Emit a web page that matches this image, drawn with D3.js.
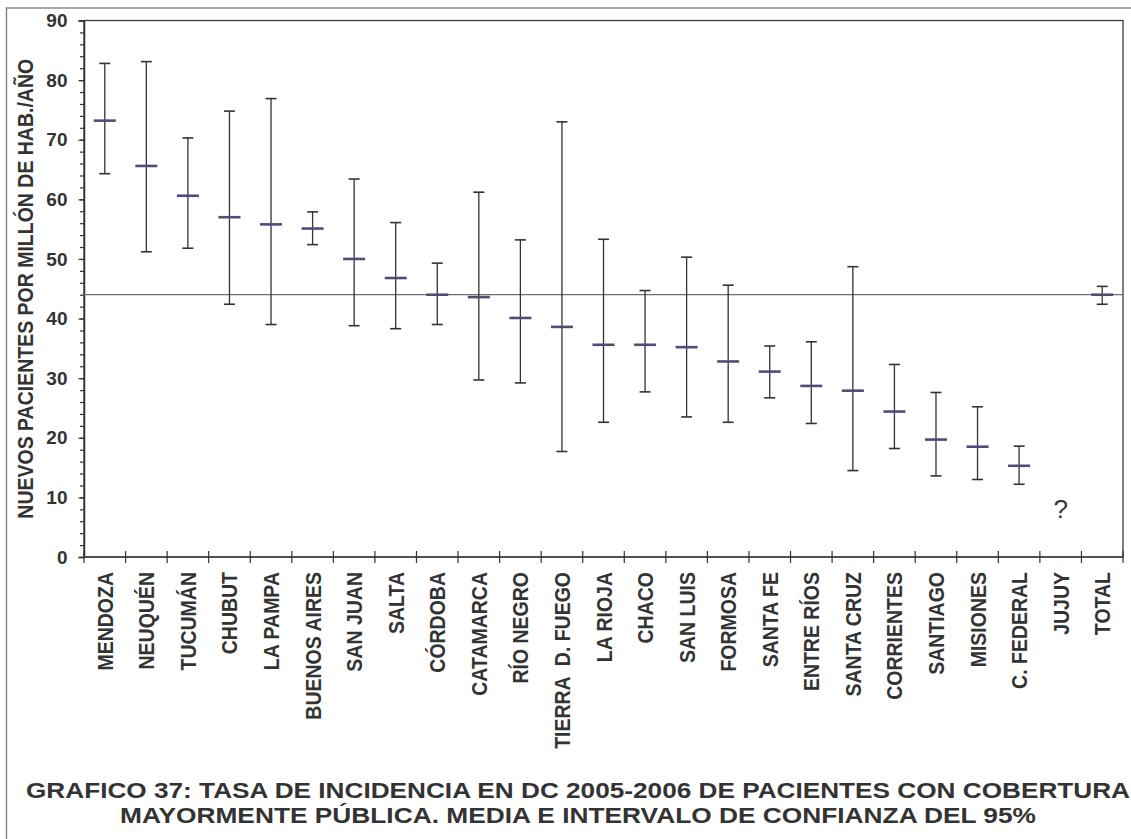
<!DOCTYPE html>
<html>
<head>
<meta charset="utf-8">
<script src="https://cdn.jsdelivr.net/npm/d3@7"></script>
<style>
  body { margin: 0; background: #fff; }
  text { font-family: "Liberation Sans", Arial, sans-serif; fill: #333; }
</style>
</head>
<body>
<div id="chart"></div>
<script>
// provinces, ordered as in the chart
const provinces = ["MENDOZA", "NEUQUÉN", "TUCUMÁN", "CHUBUT", "LA PAMPA", "BUENOS AIRES",
  "SAN JUAN", "SALTA", "CÓRDOBA", "CATAMARCA", "RÍO NEGRO", "TIERRA  D. FUEGO", "LA RIOJA",
  "CHACO", "SAN LUIS", "FORMOSA", "SANTA FE", "ENTRE RÍOS", "SANTA CRUZ", "CORRIENTES",
  "SANTIAGO", "MISIONES", "C. FEDERAL", "JUJUY", "TOTAL"];
// mean and 95% CI (null = no data)
const means = [73.2, 65.6, 60.6, 57.0, 55.8, 55.1, 50.0, 46.8, 44.0, 43.6, 40.1, 38.6, 35.6,
  35.6, 35.2, 32.8, 31.1, 28.7, 27.9, 24.4, 19.7, 18.5, 15.3, null, 44.0];
const lower = [64.3, 51.2, 51.8, 42.4, 39.0, 52.4, 38.8, 38.3, 39.0, 29.7, 29.2, 17.7, 22.6,
  27.7, 23.5, 22.6, 26.7, 22.4, 14.5, 18.2, 13.6, 13.0, 12.2, null, 42.4];
const upper = [82.8, 83.1, 70.3, 74.8, 76.9, 57.9, 63.4, 56.1, 49.3, 61.2, 53.2, 73.0, 53.3,
  44.7, 50.3, 45.6, 35.4, 36.1, 48.7, 32.3, 27.6, 25.2, 18.6, null, 45.4];
const yMajor = [0, 10, 20, 30, 40, 50, 60, 70, 80, 90];
const yMinor = d3.range(0, 91, 2);
const refValue = means[provinces.indexOf("TOTAL")];
const captionLines = [
  "GRAFICO 37: TASA DE INCIDENCIA EN DC 2005-2006 DE PACIENTES CON COBERTURA",
  "MAYORMENTE PÚBLICA. MEDIA E INTERVALO DE CONFIANZA DEL 95%"
];
const captionWidths = [1104, 916];

const W = 1131, H = 839;
const margin = {top: 20.5, right: 8, bottom: 282, left: 84};
const width = W - margin.left - margin.right;
const height = H - margin.top - margin.bottom;

const svg = d3.select("#chart").append("svg")
  .attr("width", W).attr("height", H);

// outer frame (right side falls off the page)
svg.append("rect")
  .attr("x", 6.5).attr("y", 8).attr("width", W + 20).attr("height", H + 20)
  .attr("fill", "none").attr("stroke", "#8a8a8a").attr("stroke-width", 1.5);

const g = svg.append("g").attr("transform", `translate(${margin.left},${margin.top})`);

const x = d3.scaleBand().domain(provinces).range([0, width]);
const y = d3.scaleLinear().domain([0, 90]).range([height, 0]);

// plot box
g.append("rect")
  .attr("width", width).attr("height", height)
  .attr("fill", "none").attr("stroke", "#3a3a3a").attr("stroke-width", 1.3);

// Y axis: minor ticks then major ticks with labels
g.append("g")
  .call(d3.axisLeft(y).tickValues(yMinor).tickSize(4).tickFormat(""))
  .call(a => a.select(".domain").remove())
  .selectAll("line").attr("stroke", "#333").attr("stroke-width", 1.2);
const yAx = g.append("g")
  .call(d3.axisLeft(y).tickValues(yMajor).tickSize(5.5).tickPadding(11))
  .call(a => a.select(".domain").attr("stroke", "#333").attr("stroke-width", 1.5));
yAx.selectAll("line").attr("stroke", "#333").attr("stroke-width", 1.2);
yAx.selectAll("text")
  .style("font-size", "19px").style("font-weight", "bold").attr("fill", "#333");

// X axis: bottom line plus crossing ticks at category boundaries
g.append("line")
  .attr("x1", 0).attr("x2", width).attr("y1", height).attr("y2", height)
  .attr("stroke", "#444").attr("stroke-width", 1.6);
const bounds = provinces.map(p => x(p)).concat([width]);
g.selectAll(".xtick").data(bounds).enter().append("line")
  .attr("x1", d => d).attr("x2", d => d)
  .attr("y1", height - 6).attr("y2", height + 6)
  .attr("stroke", "#333").attr("stroke-width", 1.2);

g.selectAll(".xlab").data(provinces).enter().append("text")
  .attr("transform", d => `translate(${x(d) + x.bandwidth() / 2 + 8},${height + 15}) rotate(-90) scale(1,1.15)`)
  .attr("text-anchor", "end")
  .style("font-size", "19.5px").style("font-weight", "bold")
  .style("white-space", "pre")
  .text(d => d);

// Y axis title
svg.append("text")
  .attr("transform", `translate(33,${margin.top + height / 2}) rotate(-90) scale(1,1.1)`)
  .attr("text-anchor", "middle")
  .style("font-size", "19.5px").style("font-weight", "bold")
  .text("NUEVOS PACIENTES POR MILLÓN DE HAB./AÑO");

// reference line at the total mean
g.append("line")
  .attr("x1", 0).attr("x2", width).attr("y1", y(refValue)).attr("y2", y(refValue))
  .attr("stroke", "#6e6e6e").attr("stroke-width", 1.3);

// error bars
const rows = provinces.map((p, i) => ({p, m: means[i], lo: lower[i], hi: upper[i]}))
  .filter(d => d.m !== null);
const cx = d => x(d.p) + x.bandwidth() / 2;
const bars = g.selectAll(".bar").data(rows).enter().append("g");
bars.append("line")
  .attr("x1", cx).attr("x2", cx).attr("y1", d => y(d.lo)).attr("y2", d => y(d.hi))
  .attr("stroke", "#333").attr("stroke-width", 1.3);
["lo", "hi"].forEach(k => {
  bars.append("line")
    .attr("x1", d => cx(d) - 5.5).attr("x2", d => cx(d) + 5.5)
    .attr("y1", d => y(d[k])).attr("y2", d => y(d[k]))
    .attr("stroke", "#333").attr("stroke-width", 1.6);
});
bars.append("line")
  .attr("x1", d => cx(d) - 11).attr("x2", d => cx(d) + 11)
  .attr("y1", d => y(d.m)).attr("y2", d => y(d.m))
  .attr("stroke", "#4f4c7c").attr("stroke-width", 2.6);

// missing value marker
const missing = provinces.filter((p, i) => means[i] === null);
g.selectAll(".miss").data(missing).enter().append("text")
  .attr("x", d => x(d) + x.bandwidth() / 2).attr("y", y(6.5))
  .attr("text-anchor", "middle")
  .style("font-size", "26px")
  .text("?");

// caption
svg.selectAll(".cap").data(captionLines).enter().append("text")
  .attr("x", 578).attr("y", (d, i) => 798 + i * 25)
  .attr("text-anchor", "middle")
  .attr("textLength", (d, i) => captionWidths[i])
  .attr("lengthAdjust", "spacingAndGlyphs")
  .style("font-size", "22px").style("font-weight", "bold")
  .text(d => d);
</script>
</body>
</html>
